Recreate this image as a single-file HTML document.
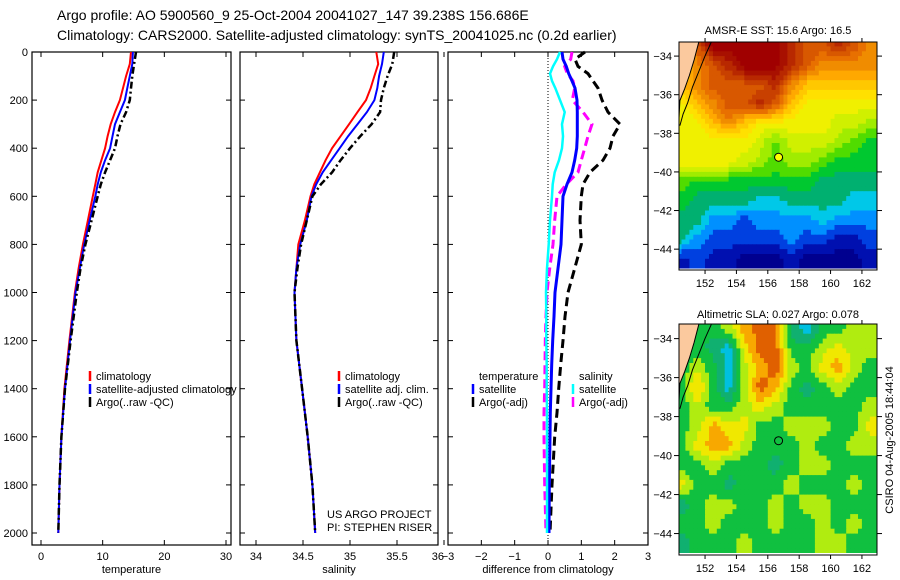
<!DOCTYPE html>
<html><head><meta charset="utf-8">
<style>
html,body{margin:0;padding:0;background:#fff;}
svg{display:block;font-family:"Liberation Sans",sans-serif;}
</style></head>
<body>
<svg id="fig" width="900" height="580" viewBox="0 0 900 580" xmlns="http://www.w3.org/2000/svg">
<text x="57" y="20" font-size="14">Argo profile: AO 5900560_9 25-Oct-2004 20041027_147 39.238S 156.686E</text>
<text x="57" y="40" font-size="14">Climatology: CARS2000. Satellite-adjusted climatology: synTS_20041025.nc (0.2d earlier)</text>
<text x="327" y="518" font-size="11">US ARGO PROJECT</text>
<text x="327" y="531" font-size="11">PI: STEPHEN RISER</text>
<text x="778" y="34" font-size="11" text-anchor="middle">AMSR-E SST: 15.6 Argo: 16.5</text>
<text x="778" y="318" font-size="11" text-anchor="middle">Altimetric SLA: 0.027 Argo: 0.078</text>
<text x="0" y="0" font-size="11" text-anchor="middle" transform="translate(893,440) rotate(-90)">CSIRO 04-Aug-2005 18:44:04</text>
</svg>
<script>
// ---- profile data ----
const depths = [0,50,100,150,200,250,300,350,400,450,500,550,600,700,800,900,1000,1200,1400,1600,1800,2000];
const tempClim = [14.6,14.4,13.8,13.3,12.8,12.0,11.3,10.8,10.4,9.8,9.2,8.8,8.4,7.6,6.8,6.1,5.5,4.6,3.8,3.3,3.0,2.8];
const tempSat  = [14.9,14.8,14.4,14.0,13.6,12.8,12.0,11.6,11.2,10.4,9.7,9.2,8.8,7.9,7.0,6.3,5.6,4.7,3.9,3.3,3.0,2.8];
const tempArgo = [15.4,15.1,14.8,14.6,14.4,13.8,12.9,12.4,12.0,11.2,10.4,9.7,9.2,8.2,7.2,6.4,5.8,4.8,3.9,3.3,3.0,2.8];
const salClim = [35.28,35.30,35.26,35.22,35.17,35.08,34.99,34.90,34.81,34.74,34.68,34.62,34.58,34.52,34.45,34.43,34.41,34.43,34.49,34.55,34.60,34.63];
const salSat  = [35.36,35.34,35.31,35.29,35.26,35.18,35.08,34.98,34.89,34.80,34.71,34.64,34.59,34.54,34.47,34.43,34.41,34.43,34.49,34.55,34.60,34.63];
const salArgo = [35.47,35.45,35.40,35.36,35.33,35.32,35.23,35.11,35.00,34.90,34.81,34.69,34.60,34.54,34.48,34.44,34.41,34.43,34.49,34.55,34.60,34.63];
const diffDepths = [0,30,60,90,120,150,200,250,300,350,400,450,500,550,600,700,800,900,1000,1100,1200,1300,1400,1500,1600,1800,2000];
const diffSalSat  = [0.36,0.27,0.15,0.06,0.12,0.22,0.36,0.5,0.42,0.45,0.42,0.33,0.2,0.14,0.12,0.06,0.02,-0.03,-0.06,-0.05,-0.05,-0.04,-0.04,-0.03,-0.03,-0.03,-0.03];
const diffTempSat = [0.42,0.45,0.55,0.62,0.72,0.81,0.87,0.88,0.88,0.88,0.86,0.8,0.72,0.57,0.45,0.42,0.39,0.3,0.21,0.18,0.14,0.11,0.09,0.07,0.06,0.04,0.03];
const diffSalArgo = [0.72,0.68,0.5,0.58,0.75,0.8,0.73,1.05,1.32,1.2,1.1,1.0,0.9,0.55,0.27,0.2,0.15,0.05,-0.03,-0.06,-0.08,-0.09,-0.1,-0.12,-0.12,-0.1,-0.06];
const diffTempArgo= [1.11,0.81,0.9,1.2,1.35,1.5,1.62,1.8,2.16,1.95,1.86,1.65,1.26,1.05,1.0,0.96,1.0,0.8,0.6,0.51,0.45,0.38,0.32,0.27,0.2,0.12,0.06];
const depthTicks = [0,200,400,600,800,1000,1200,1400,1600,1800,2000];
const tempTicks = [0,10,20,30];
const salTicks = [34,34.5,35,35.5,36];
const salTickLabels = ["34","34.5","35","35.5","36"];
const diffTicks = [-3,-2,-1,0,1,2,3];
// ---- map data (grid index values, rows north->south, cols west->east) ----
const mapLons = [150.5,151.5,152.5,153.5,154.5,155.5,156.5,157.5,158.5,159.5,160.5,161.5,162.5];
const mapLats = [-33.5,-34.5,-35.5,-36.5,-37.5,-38.5,-39.5,-40.5,-41.5,-42.5,-43.5,-44.5];
const sstGrid = [
[5,8,10,10,10,10,10,9,8,8,9,8,7],
[5,7,8,9,10,10,10,9,8,7,7,7,7],
[6,7,8,8,8,8,9,7,6,6,6,6,6],
[5,6,7,8,8,9,8,6,5,5,5,5,5],
[5,5,6,7,6,5,5,5,5,5,4.5,4.5,4],
[5,5,5,5,5,4.5,3.5,4.5,4.5,4.5,4,3.5,3],
[5,5,5,5,4.5,4,3.5,4,4,3.5,3,3,3],
[3.5,3,3,3,3,3,3,3,3,2.5,2.5,2.5,2.5],
[3,2.5,2.5,2.5,2.5,2,2,2.5,2.5,2.5,2.5,2,2],
[2.5,2.5,1.5,1.5,1,1.5,1.5,1.5,1.5,2,1.5,1.5,1.5],
[2.5,1.5,1,1,1,1,1,1.5,1,1,0.5,0.5,1],
[0.5,1,0.5,0.5,0,0,0,0.5,0,0,0,0,0.5]];
const slaGrid = [
[3,3,3,4,6,7,7,2,1,3,3,4,4],
[3,3,2,1,5,7,7,3,3,4,5,4,4],
[3,4,3,1,4,6,7,4,3,5,6,4,3],
[3,6,3,1,4,7,6,3,2,3,4,3,3],
[3,4,3,3,4,5,4,3,3,3,3,3,4],
[3,4,6,5,5,3,3,4,4,4,3,3,5],
[3,5,6,6,4,3,3,3,4,3,3,4,4],
[3,3,4,3,3,3,2,3,4,4,3,3,3],
[5,3,3,2,3,3,3,4,3,3,3,4,3],
[2,3,4,4,3,3,4,3,4,4,3,3,3],
[3,3,4,3,3,3,4,3,3,4,3,4,3],
[2,3,3,3,4,3,3,3,3,4,4,3,3]];
const sstColors = ["#00008f","#0010b0","#0040e0","#0090ff","#00c8e8","#00b070","#00c830","#50dc00","#a0ec00","#d0f000","#f0f000","#ffe000","#ffc800","#ffa800","#f08c00","#e87000","#d85800","#c84000","#b82800","#a81000","#a00000"];
const slaColors = ["#2080ff","#00c0e0","#10b070","#10c040","#b0ec10","#f0e800","#f8a800","#e06000","#b02000"];
const mapLonTicks = [152,154,156,158,160,162];
const mapLatTicks = [-34,-36,-38,-40,-42,-44];
const argoPos = [156.686,-39.238];
const coastLons = [151.6,151.3,151.0,150.7,150.4,150.35,150.3];
const coastLats = [-33.27,-34.2,-35.0,-35.7,-36.3,-37.0,-37.8];
const shelfLons = [152.4,152.0,151.6,151.2,150.9,150.6,150.4];
const shelfLats = [-33.27,-34.0,-34.8,-35.6,-36.4,-37.0,-37.6];

const NS="http://www.w3.org/2000/svg";
const svg=document.getElementById('fig');
function mk(tag,attrs,parent){const e=document.createElementNS(NS,tag);for(const k in attrs)e.setAttribute(k,attrs[k]);(parent||svg).appendChild(e);return e;}
function lin(d0,d1,r0,r1){return v=>r0+(v-d0)*(r1-r0)/(d1-d0);}
const Y0=52, Y1=545;
const yDepth=lin(0,2000,52,533);

function panel(name,x0,x1,xs,ticks,labels,xlabel,showY){
  const g=mk('g',{});
  
  
  mk('rect',{x:x0,y:Y0,width:x1-x0,height:Y1-Y0,fill:'none',stroke:'#000','stroke-width':1.2},g);
  ticks.forEach((t,i)=>{const x=xs(t);
    mk('line',{x1:x,y1:Y0,x2:x,y2:Y0+5,stroke:'#000'},g);
    mk('line',{x1:x,y1:Y1,x2:x,y2:Y1-5,stroke:'#000'},g);
    const tx=mk('text',{x:x,y:Y1+15,'font-size':11,'text-anchor':(i===ticks.length-1&&name==='salinity')?'end':'middle'},g);tx.textContent=String(labels[i]).replace('-','\u2212');
    
    
  });
  depthTicks.forEach(d=>{const y=yDepth(d);
    mk('line',{x1:x0,y1:y,x2:x0+5,y2:y,stroke:'#000'},g);
    mk('line',{x1:x1,y1:y,x2:x1-5,y2:y,stroke:'#000'},g);
    if(showY){const tx=mk('text',{x:x0-4,y:y+4,'font-size':11,'text-anchor':'end'},g);tx.textContent=d;
      
      }
  });
  const xl=mk('text',{x:(x0+x1)/2,y:573,'font-size':11,'text-anchor':'middle'},g);xl.textContent=xlabel;
  
  
  return g;
}
function line(g,xs,vals,dep,color,w,dash,name){
  const pts=vals.map((v,i)=>xs(v).toFixed(1)+','+yDepth(dep[i]).toFixed(1)).join(' ');
  const p=mk('polyline',{points:pts,fill:'none',stroke:color,'stroke-width':w},g);
  if(dash)p.setAttribute('stroke-dasharray',dash);
  
  
}
function legend(g,x,y,items){
  items.forEach((it,i)=>{
    const yy=y+i*13;
    if(it.c)mk('line',{x1:x,y1:yy-9,x2:x,y2:yy+1,stroke:it.c,'stroke-width':2.5},g);
    const t=mk('text',{x:x+6,y:yy,'font-size':11},g);t.textContent=it.t;
    
    
  });
}
// panel 1
const xT=lin(0,30,41,226);
const g1=panel('temperature',32,231,xT,tempTicks,tempTicks.map(String),'temperature',true);
line(g1,xT,tempClim,depths,'#ff0000',2,null,'temp-climatology-line');
line(g1,xT,tempSat,depths,'#0000ff',2,null,'temp-satellite-line');
line(g1,xT,tempArgo,depths,'#000',2.5,'7,3,2,3','temp-argo-line');
legend(g1,90,380,[{c:'#ff0000',t:'climatology'},{c:'#0000ff',t:'satellite-adjusted climatology'},{c:'#000',t:'Argo(..raw -QC)'}]);
// panel 2
const xS=lin(34,35.5,256,397);
const g2=panel('salinity',240,438,xS,salTicks,salTickLabels,'salinity',false);
line(g2,xS,salClim,depths,'#ff0000',2,null,'sal-climatology-line');
line(g2,xS,salSat,depths,'#0000ff',2,null,'sal-satellite-line');
line(g2,xS,salArgo,depths,'#000',2.5,'7,3,2,3','sal-argo-line');
legend(g2,339,380,[{c:'#ff0000',t:'climatology'},{c:'#0000ff',t:'satellite adj. clim.'},{c:'#000',t:'Argo(..raw -QC)'}]);
// panel 3
const xD=lin(-3,3,448,648);
const g3=panel('difference',448,648,xD,diffTicks,diffTicks.map(String),'difference from climatology',false);
mk('line',{x1:xD(0),y1:Y0,x2:xD(0),y2:Y1,stroke:'#000','stroke-dasharray':'1,2'},g3);
line(g3,xD,diffTempArgo,diffDepths,'#000',3,'9,5','diff-temp-argo-line');
line(g3,xD,diffSalArgo,diffDepths,'#ff00ff',3,'9,5','diff-sal-argo-line');
line(g3,xD,diffTempSat,diffDepths,'#0000ff',3,null,'diff-temp-satellite-line');
line(g3,xD,diffSalSat,diffDepths,'#00ffff',2.5,null,'diff-sal-satellite-line');
legend(g3,473,380,[{t:'temperature'},{c:'#0000ff',t:'satellite'},{c:'#000',t:'Argo(-adj)'}]);
legend(g3,573,380,[{t:'salinity'},{c:'#00ffff',t:'satellite'},{c:'#ff00ff',t:'Argo(-adj)'}]);

// ---- maps ----
function sample(grid,lon,lat){
  // bilinear interpolation between grid cell centres
  let fc=(lon-mapLons[0]), fr=(mapLats[0]-lat);
  fc=Math.max(0,Math.min(mapLons.length-1,fc)); fr=Math.max(0,Math.min(mapLats.length-1,fr));
  const c0=Math.min(Math.floor(fc),mapLons.length-2), r0=Math.min(Math.floor(fr),mapLats.length-2);
  const tc=fc-c0, tr=fr-r0;
  const a=grid[r0][c0],b=grid[r0][c0+1],c=grid[r0+1][c0],d=grid[r0+1][c0+1];
  return (a*(1-tc)+b*tc)*(1-tr)+(c*(1-tc)+d*tc)*tr;
}
function map(name,top,bottom,latTop,latBot,grid,colors,step,dotFill){
  const xL=lin(150.34,162.96,679,877);
  const yL=lin(latTop,latBot,top,bottom);
  const g=mk('g',{});
  
  
  const cid=name+'-clip';
  const cp=mk('clipPath',{id:cid},g);mk('rect',{x:679,y:top,width:198,height:yL(-45)-top},cp);
  const cg=mk('g',{'clip-path':'url(#'+cid+')'},g);
  const sub=0.25;
  for(let lat=-33.125;lat>-45.2;lat-=sub){
    for(let lon=150.125;lon<163.1;lon+=sub){
      const v=sample(grid,lon,lat);
      const idx=Math.max(0,Math.min(colors.length-1,Math.round(v/step)));
      const x=xL(lon-sub/2),y=yL(lat+sub/2);
      const cell=mk('rect',{x:x.toFixed(1),y:y.toFixed(1),width:(xL(sub)-xL(0)+0.5).toFixed(1),height:(yL(-sub)-yL(0)+0.5).toFixed(1),fill:colors[idx]},cg);
      
      
    }
  }
  const lp=[[150.0,latTop]].concat(coastLons.map((l,i)=>[l,coastLats[i]]),[[150.0,-37.8]]);
  const landEl=mk('polygon',{points:lp.map(p=>xL(p[0]).toFixed(1)+','+yL(p[1]).toFixed(1)).join(' '),fill:'#fbc99e'},cg);
  
  
  mk('polyline',{points:coastLons.map((l,i)=>xL(l).toFixed(1)+','+yL(coastLats[i]).toFixed(1)).join(' '),fill:'none',stroke:'#000','stroke-width':1},cg);
  mk('polyline',{points:shelfLons.map((l,i)=>xL(l).toFixed(1)+','+yL(shelfLats[i]).toFixed(1)).join(' '),fill:'none',stroke:'#000','stroke-width':1},cg);
  mk('rect',{x:679,y:top,width:198,height:bottom-top,fill:'none',stroke:'#000'},g);
  mapLonTicks.forEach(l=>{const x=xL(l);
    mk('line',{x1:x,y1:top,x2:x,y2:top-4,stroke:'#000'},g);
    mk('line',{x1:x,y1:bottom,x2:x,y2:bottom+4,stroke:'#000'},g);
    const t=mk('text',{x:x,y:bottom+17,'font-size':11,'text-anchor':'middle'},g);t.textContent=l;
    
    });
  mapLatTicks.forEach(l=>{const y=yL(l);
    mk('line',{x1:679,y1:y,x2:674,y2:y,stroke:'#000'},g);
    mk('line',{x1:877,y1:y,x2:882,y2:y,stroke:'#000'},g);
    const t=mk('text',{x:672,y:y+4,'font-size':11,'text-anchor':'end'},g);t.textContent=String(l).replace('-','\u2212');
    
    });
  const dot=mk('circle',{cx:xL(argoPos[0]),cy:yL(argoPos[1]),r:4,fill:dotFill,stroke:'#000','stroke-width':1},g);
  
  
}
map('sst-map',42,270,-33.27,-45.08,sstGrid,sstColors,0.5,'#ffff00');
map('sla-map',324,555,-33.25,-45.1,slaGrid,slaColors,1,'none');
</script>
</body></html>
